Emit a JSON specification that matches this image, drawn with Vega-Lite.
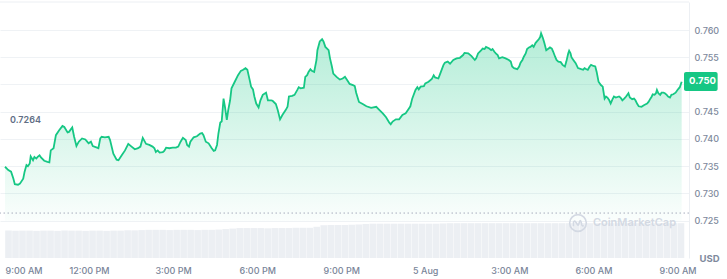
{
  "$schema": "https://vega.github.io/schema/vega-lite/v6.json",
  "width": 689,
  "height": 256,
  "autosize": {"type": "none"},
  "padding": {"left": 0, "top": 2, "right": 38, "bottom": 21},
  "background": "white",
  "config": {"view": {"stroke": null}, "font": "Inter"},
  "datasets": {
    "price": [
      {"time": "2023-08-04T09:00", "price": 0.7349},
      {"time": "2023-08-04T09:07", "price": 0.7343},
      {"time": "2023-08-04T09:13", "price": 0.7340},
      {"time": "2023-08-04T09:18", "price": 0.7327},
      {"time": "2023-08-04T09:21", "price": 0.7317},
      {"time": "2023-08-04T09:28", "price": 0.7316},
      {"time": "2023-08-04T09:32", "price": 0.7318},
      {"time": "2023-08-04T09:39", "price": 0.7327},
      {"time": "2023-08-04T09:42", "price": 0.7340},
      {"time": "2023-08-04T09:46", "price": 0.7352},
      {"time": "2023-08-04T09:49", "price": 0.7350},
      {"time": "2023-08-04T09:53", "price": 0.7355},
      {"time": "2023-08-04T09:55", "price": 0.7368},
      {"time": "2023-08-04T10:00", "price": 0.7361},
      {"time": "2023-08-04T10:03", "price": 0.7367},
      {"time": "2023-08-04T10:07", "price": 0.7364},
      {"time": "2023-08-04T10:10", "price": 0.7367},
      {"time": "2023-08-04T10:14", "price": 0.7370},
      {"time": "2023-08-04T10:17", "price": 0.7366},
      {"time": "2023-08-04T10:24", "price": 0.7360},
      {"time": "2023-08-04T10:31", "price": 0.7358},
      {"time": "2023-08-04T10:35", "price": 0.7357},
      {"time": "2023-08-04T10:38", "price": 0.7379},
      {"time": "2023-08-04T10:44", "price": 0.7383},
      {"time": "2023-08-04T10:49", "price": 0.7407},
      {"time": "2023-08-04T10:56", "price": 0.7416},
      {"time": "2023-08-04T11:03", "price": 0.7424},
      {"time": "2023-08-04T11:07", "price": 0.7422},
      {"time": "2023-08-04T11:14", "price": 0.7412},
      {"time": "2023-08-04T11:17", "price": 0.7413},
      {"time": "2023-08-04T11:24", "price": 0.7421},
      {"time": "2023-08-04T11:28", "price": 0.7404},
      {"time": "2023-08-04T11:33", "price": 0.7387},
      {"time": "2023-08-04T11:38", "price": 0.7395},
      {"time": "2023-08-04T11:45", "price": 0.7401},
      {"time": "2023-08-04T11:52", "price": 0.7399},
      {"time": "2023-08-04T11:56", "price": 0.7395},
      {"time": "2023-08-04T11:59", "price": 0.7392},
      {"time": "2023-08-04T12:04", "price": 0.7395},
      {"time": "2023-08-04T12:08", "price": 0.7387},
      {"time": "2023-08-04T12:17", "price": 0.7384},
      {"time": "2023-08-04T12:20", "price": 0.7383},
      {"time": "2023-08-04T12:24", "price": 0.7401},
      {"time": "2023-08-04T12:27", "price": 0.7404},
      {"time": "2023-08-04T12:34", "price": 0.7403},
      {"time": "2023-08-04T12:42", "price": 0.7404},
      {"time": "2023-08-04T12:45", "price": 0.7398},
      {"time": "2023-08-04T12:52", "price": 0.7373},
      {"time": "2023-08-04T12:59", "price": 0.7362},
      {"time": "2023-08-04T13:03", "price": 0.7361},
      {"time": "2023-08-04T13:10", "price": 0.7370},
      {"time": "2023-08-04T13:17", "price": 0.7379},
      {"time": "2023-08-04T13:24", "price": 0.7391},
      {"time": "2023-08-04T13:31", "price": 0.7386},
      {"time": "2023-08-04T13:38", "price": 0.7381},
      {"time": "2023-08-04T13:45", "price": 0.7383},
      {"time": "2023-08-04T13:50", "price": 0.7386},
      {"time": "2023-08-04T13:55", "price": 0.7402},
      {"time": "2023-08-04T14:02", "price": 0.7391},
      {"time": "2023-08-04T14:09", "price": 0.7389},
      {"time": "2023-08-04T14:16", "price": 0.7386},
      {"time": "2023-08-04T14:20", "price": 0.7383},
      {"time": "2023-08-04T14:23", "price": 0.7376},
      {"time": "2023-08-04T14:27", "price": 0.7379},
      {"time": "2023-08-04T14:31", "price": 0.7375},
      {"time": "2023-08-04T14:38", "price": 0.7376},
      {"time": "2023-08-04T14:41", "price": 0.7378},
      {"time": "2023-08-04T14:45", "price": 0.7384},
      {"time": "2023-08-04T14:52", "price": 0.7383},
      {"time": "2023-08-04T14:59", "price": 0.7384},
      {"time": "2023-08-04T15:06", "price": 0.7384},
      {"time": "2023-08-04T15:11", "price": 0.7386},
      {"time": "2023-08-04T15:16", "price": 0.7395},
      {"time": "2023-08-04T15:21", "price": 0.7402},
      {"time": "2023-08-04T15:27", "price": 0.7398},
      {"time": "2023-08-04T15:30", "price": 0.7389},
      {"time": "2023-08-04T15:34", "price": 0.7386},
      {"time": "2023-08-04T15:37", "price": 0.7395},
      {"time": "2023-08-04T15:44", "price": 0.7403},
      {"time": "2023-08-04T15:51", "price": 0.7405},
      {"time": "2023-08-04T15:58", "price": 0.7410},
      {"time": "2023-08-04T16:02", "price": 0.7411},
      {"time": "2023-08-04T16:05", "price": 0.7407},
      {"time": "2023-08-04T16:10", "price": 0.7395},
      {"time": "2023-08-04T16:16", "price": 0.7392},
      {"time": "2023-08-04T16:22", "price": 0.7384},
      {"time": "2023-08-04T16:27", "price": 0.7378},
      {"time": "2023-08-04T16:30", "price": 0.7379},
      {"time": "2023-08-04T16:34", "price": 0.7389},
      {"time": "2023-08-04T16:37", "price": 0.7410},
      {"time": "2023-08-04T16:41", "price": 0.7430},
      {"time": "2023-08-04T16:44", "price": 0.7432},
      {"time": "2023-08-04T16:48", "price": 0.7474},
      {"time": "2023-08-04T16:51", "price": 0.7459},
      {"time": "2023-08-04T16:55", "price": 0.7435},
      {"time": "2023-08-04T16:58", "price": 0.7453},
      {"time": "2023-08-04T17:02", "price": 0.7471},
      {"time": "2023-08-04T17:05", "price": 0.7493},
      {"time": "2023-08-04T17:12", "price": 0.7505},
      {"time": "2023-08-04T17:19", "price": 0.7517},
      {"time": "2023-08-04T17:25", "price": 0.7525},
      {"time": "2023-08-04T17:30", "price": 0.7527},
      {"time": "2023-08-04T17:35", "price": 0.7530},
      {"time": "2023-08-04T17:39", "price": 0.7527},
      {"time": "2023-08-04T17:44", "price": 0.7508},
      {"time": "2023-08-04T17:47", "price": 0.7496},
      {"time": "2023-08-04T17:51", "price": 0.7491},
      {"time": "2023-08-04T17:54", "price": 0.7478},
      {"time": "2023-08-04T17:58", "price": 0.7465},
      {"time": "2023-08-04T18:03", "price": 0.7458},
      {"time": "2023-08-04T18:07", "price": 0.7471},
      {"time": "2023-08-04T18:12", "price": 0.7481},
      {"time": "2023-08-04T18:19", "price": 0.7485},
      {"time": "2023-08-04T18:23", "price": 0.7471},
      {"time": "2023-08-04T18:30", "price": 0.7471},
      {"time": "2023-08-04T18:33", "price": 0.7470},
      {"time": "2023-08-04T18:40", "price": 0.7464},
      {"time": "2023-08-04T18:44", "price": 0.7453},
      {"time": "2023-08-04T18:49", "price": 0.7436},
      {"time": "2023-08-04T18:54", "price": 0.7444},
      {"time": "2023-08-04T19:01", "price": 0.7453},
      {"time": "2023-08-04T19:05", "price": 0.7459},
      {"time": "2023-08-04T19:08", "price": 0.7478},
      {"time": "2023-08-04T19:15", "price": 0.7479},
      {"time": "2023-08-04T19:20", "price": 0.7481},
      {"time": "2023-08-04T19:26", "price": 0.7490},
      {"time": "2023-08-04T19:29", "price": 0.7495},
      {"time": "2023-08-04T19:33", "price": 0.7493},
      {"time": "2023-08-04T19:40", "price": 0.7494},
      {"time": "2023-08-04T19:43", "price": 0.7514},
      {"time": "2023-08-04T19:47", "price": 0.7517},
      {"time": "2023-08-04T19:50", "price": 0.7523},
      {"time": "2023-08-04T19:54", "price": 0.7528},
      {"time": "2023-08-04T19:57", "price": 0.7525},
      {"time": "2023-08-04T20:02", "price": 0.7523},
      {"time": "2023-08-04T20:07", "price": 0.7545},
      {"time": "2023-08-04T20:09", "price": 0.7563},
      {"time": "2023-08-04T20:14", "price": 0.7579},
      {"time": "2023-08-04T20:19", "price": 0.7583},
      {"time": "2023-08-04T20:22", "price": 0.7579},
      {"time": "2023-08-04T20:26", "price": 0.7569},
      {"time": "2023-08-04T20:33", "price": 0.7563},
      {"time": "2023-08-04T20:36", "price": 0.7548},
      {"time": "2023-08-04T20:40", "price": 0.7533},
      {"time": "2023-08-04T20:43", "price": 0.7520},
      {"time": "2023-08-04T20:50", "price": 0.7514},
      {"time": "2023-08-04T20:57", "price": 0.7509},
      {"time": "2023-08-04T21:03", "price": 0.7511},
      {"time": "2023-08-04T21:08", "price": 0.7514},
      {"time": "2023-08-04T21:15", "price": 0.7505},
      {"time": "2023-08-04T21:18", "price": 0.7501},
      {"time": "2023-08-04T21:25", "price": 0.7499},
      {"time": "2023-08-04T21:29", "price": 0.7497},
      {"time": "2023-08-04T21:32", "price": 0.7485},
      {"time": "2023-08-04T21:38", "price": 0.7468},
      {"time": "2023-08-04T21:46", "price": 0.7464},
      {"time": "2023-08-04T21:54", "price": 0.7460},
      {"time": "2023-08-04T22:04", "price": 0.7457},
      {"time": "2023-08-04T22:15", "price": 0.7459},
      {"time": "2023-08-04T22:22", "price": 0.7453},
      {"time": "2023-08-04T22:29", "price": 0.7447},
      {"time": "2023-08-04T22:36", "price": 0.7440},
      {"time": "2023-08-04T22:43", "price": 0.7430},
      {"time": "2023-08-04T22:46", "price": 0.7427},
      {"time": "2023-08-04T22:50", "price": 0.7432},
      {"time": "2023-08-04T22:57", "price": 0.7436},
      {"time": "2023-08-04T23:04", "price": 0.7436},
      {"time": "2023-08-04T23:11", "price": 0.7444},
      {"time": "2023-08-04T23:18", "price": 0.7447},
      {"time": "2023-08-04T23:25", "price": 0.7456},
      {"time": "2023-08-04T23:28", "price": 0.7460},
      {"time": "2023-08-04T23:32", "price": 0.7474},
      {"time": "2023-08-04T23:39", "price": 0.7490},
      {"time": "2023-08-04T23:43", "price": 0.7495},
      {"time": "2023-08-04T23:46", "price": 0.7491},
      {"time": "2023-08-04T23:50", "price": 0.7496},
      {"time": "2023-08-04T23:57", "price": 0.7497},
      {"time": "2023-08-05T00:00", "price": 0.7502},
      {"time": "2023-08-05T00:07", "price": 0.7505},
      {"time": "2023-08-05T00:14", "price": 0.7510},
      {"time": "2023-08-05T00:18", "price": 0.7517},
      {"time": "2023-08-05T00:21", "price": 0.7513},
      {"time": "2023-08-05T00:28", "price": 0.7511},
      {"time": "2023-08-05T00:32", "price": 0.7520},
      {"time": "2023-08-05T00:39", "price": 0.7536},
      {"time": "2023-08-05T00:42", "price": 0.7540},
      {"time": "2023-08-05T00:48", "price": 0.7542},
      {"time": "2023-08-05T00:53", "price": 0.7538},
      {"time": "2023-08-05T01:00", "price": 0.7545},
      {"time": "2023-08-05T01:07", "price": 0.7548},
      {"time": "2023-08-05T01:14", "price": 0.7549},
      {"time": "2023-08-05T01:21", "price": 0.7554},
      {"time": "2023-08-05T01:24", "price": 0.7558},
      {"time": "2023-08-05T01:32", "price": 0.7557},
      {"time": "2023-08-05T01:39", "price": 0.7552},
      {"time": "2023-08-05T01:46", "price": 0.7545},
      {"time": "2023-08-05T01:49", "price": 0.7548},
      {"time": "2023-08-05T01:53", "price": 0.7557},
      {"time": "2023-08-05T02:00", "price": 0.7563},
      {"time": "2023-08-05T02:03", "price": 0.7566},
      {"time": "2023-08-05T02:07", "price": 0.7565},
      {"time": "2023-08-05T02:10", "price": 0.7569},
      {"time": "2023-08-05T02:17", "price": 0.7566},
      {"time": "2023-08-05T02:21", "price": 0.7563},
      {"time": "2023-08-05T02:24", "price": 0.7565},
      {"time": "2023-08-05T02:28", "price": 0.7560},
      {"time": "2023-08-05T02:31", "price": 0.7557},
      {"time": "2023-08-05T02:35", "price": 0.7554},
      {"time": "2023-08-05T02:38", "price": 0.7548},
      {"time": "2023-08-05T02:45", "price": 0.7550},
      {"time": "2023-08-05T02:52", "price": 0.7548},
      {"time": "2023-08-05T02:59", "price": 0.7545},
      {"time": "2023-08-05T03:03", "price": 0.7542},
      {"time": "2023-08-05T03:06", "price": 0.7533},
      {"time": "2023-08-05T03:10", "price": 0.7530},
      {"time": "2023-08-05T03:17", "price": 0.7528},
      {"time": "2023-08-05T03:21", "price": 0.7533},
      {"time": "2023-08-05T03:24", "price": 0.7540},
      {"time": "2023-08-05T03:28", "price": 0.7545},
      {"time": "2023-08-05T03:31", "price": 0.7551},
      {"time": "2023-08-05T03:35", "price": 0.7557},
      {"time": "2023-08-05T03:38", "price": 0.7565},
      {"time": "2023-08-05T03:42", "price": 0.7568},
      {"time": "2023-08-05T03:45", "price": 0.7569},
      {"time": "2023-08-05T03:49", "price": 0.7572},
      {"time": "2023-08-05T03:52", "price": 0.7569},
      {"time": "2023-08-05T03:56", "price": 0.7576},
      {"time": "2023-08-05T03:59", "price": 0.7579},
      {"time": "2023-08-05T04:03", "price": 0.7583},
      {"time": "2023-08-05T04:06", "price": 0.7587},
      {"time": "2023-08-05T04:08", "price": 0.7594},
      {"time": "2023-08-05T04:12", "price": 0.7585},
      {"time": "2023-08-05T04:15", "price": 0.7576},
      {"time": "2023-08-05T04:19", "price": 0.7563},
      {"time": "2023-08-05T04:24", "price": 0.7566},
      {"time": "2023-08-05T04:27", "price": 0.7568},
      {"time": "2023-08-05T04:31", "price": 0.7566},
      {"time": "2023-08-05T04:34", "price": 0.7560},
      {"time": "2023-08-05T04:38", "price": 0.7551},
      {"time": "2023-08-05T04:41", "price": 0.7545},
      {"time": "2023-08-05T04:45", "price": 0.7542},
      {"time": "2023-08-05T04:50", "price": 0.7541},
      {"time": "2023-08-05T04:54", "price": 0.7536},
      {"time": "2023-08-05T04:59", "price": 0.7533},
      {"time": "2023-08-05T05:02", "price": 0.7542},
      {"time": "2023-08-05T05:06", "price": 0.7557},
      {"time": "2023-08-05T05:08", "price": 0.7562},
      {"time": "2023-08-05T05:11", "price": 0.7557},
      {"time": "2023-08-05T05:13", "price": 0.7550},
      {"time": "2023-08-05T05:17", "price": 0.7545},
      {"time": "2023-08-05T05:22", "price": 0.7539},
      {"time": "2023-08-05T05:27", "price": 0.7530},
      {"time": "2023-08-05T05:34", "price": 0.7528},
      {"time": "2023-08-05T05:38", "price": 0.7527},
      {"time": "2023-08-05T05:41", "price": 0.7530},
      {"time": "2023-08-05T05:45", "price": 0.7528},
      {"time": "2023-08-05T05:48", "price": 0.7527},
      {"time": "2023-08-05T05:52", "price": 0.7533},
      {"time": "2023-08-05T05:55", "price": 0.7536},
      {"time": "2023-08-05T06:00", "price": 0.7534},
      {"time": "2023-08-05T06:04", "price": 0.7533},
      {"time": "2023-08-05T06:07", "price": 0.7523},
      {"time": "2023-08-05T06:11", "price": 0.7505},
      {"time": "2023-08-05T06:16", "price": 0.7499},
      {"time": "2023-08-05T06:20", "price": 0.7496},
      {"time": "2023-08-05T06:21", "price": 0.7490},
      {"time": "2023-08-05T06:24", "price": 0.7474},
      {"time": "2023-08-05T06:27", "price": 0.7478},
      {"time": "2023-08-05T06:30", "price": 0.7476},
      {"time": "2023-08-05T06:34", "price": 0.7471},
      {"time": "2023-08-05T06:37", "price": 0.7465},
      {"time": "2023-08-05T06:41", "price": 0.7473},
      {"time": "2023-08-05T06:44", "price": 0.7478},
      {"time": "2023-08-05T06:48", "price": 0.7476},
      {"time": "2023-08-05T06:55", "price": 0.7478},
      {"time": "2023-08-05T06:58", "price": 0.7476},
      {"time": "2023-08-05T07:02", "price": 0.7471},
      {"time": "2023-08-05T07:06", "price": 0.7474},
      {"time": "2023-08-05T07:10", "price": 0.7478},
      {"time": "2023-08-05T07:15", "price": 0.7484},
      {"time": "2023-08-05T07:18", "price": 0.7476},
      {"time": "2023-08-05T07:23", "price": 0.7473},
      {"time": "2023-08-05T07:27", "price": 0.7474},
      {"time": "2023-08-05T07:30", "price": 0.7471},
      {"time": "2023-08-05T07:34", "price": 0.7464},
      {"time": "2023-08-05T07:37", "price": 0.7460},
      {"time": "2023-08-05T07:43", "price": 0.7459},
      {"time": "2023-08-05T07:48", "price": 0.7462},
      {"time": "2023-08-05T07:55", "price": 0.7465},
      {"time": "2023-08-05T07:58", "price": 0.7468},
      {"time": "2023-08-05T08:02", "price": 0.7474},
      {"time": "2023-08-05T08:05", "price": 0.7478},
      {"time": "2023-08-05T08:07", "price": 0.7482},
      {"time": "2023-08-05T08:11", "price": 0.7481},
      {"time": "2023-08-05T08:14", "price": 0.7484},
      {"time": "2023-08-05T08:16", "price": 0.7490},
      {"time": "2023-08-05T08:19", "price": 0.7484},
      {"time": "2023-08-05T08:23", "price": 0.7481},
      {"time": "2023-08-05T08:26", "price": 0.7485},
      {"time": "2023-08-05T08:30", "price": 0.7485},
      {"time": "2023-08-05T08:33", "price": 0.7484},
      {"time": "2023-08-05T08:37", "price": 0.7481},
      {"time": "2023-08-05T08:40", "price": 0.7478},
      {"time": "2023-08-05T08:44", "price": 0.7476},
      {"time": "2023-08-05T08:47", "price": 0.7481},
      {"time": "2023-08-05T08:51", "price": 0.7482},
      {"time": "2023-08-05T08:56", "price": 0.7485},
      {"time": "2023-08-05T09:00", "price": 0.7490},
      {"time": "2023-08-05T09:05", "price": 0.7495},
      {"time": "2023-08-05T09:09", "price": 0.7505}
    ],
    "volume": [
      {"time": "2023-08-04T09:07:30", "volume": 107},
      {"time": "2023-08-04T09:22:30", "volume": 106},
      {"time": "2023-08-04T09:37:30", "volume": 107},
      {"time": "2023-08-04T09:52:30", "volume": 107},
      {"time": "2023-08-04T10:07:30", "volume": 106},
      {"time": "2023-08-04T10:22:30", "volume": 107},
      {"time": "2023-08-04T10:37:30", "volume": 107},
      {"time": "2023-08-04T10:52:30", "volume": 106},
      {"time": "2023-08-04T11:07:30", "volume": 107},
      {"time": "2023-08-04T11:22:30", "volume": 107},
      {"time": "2023-08-04T11:37:30", "volume": 107},
      {"time": "2023-08-04T11:52:30", "volume": 106},
      {"time": "2023-08-04T12:07:30", "volume": 107},
      {"time": "2023-08-04T12:22:30", "volume": 107},
      {"time": "2023-08-04T12:37:30", "volume": 106},
      {"time": "2023-08-04T12:52:30", "volume": 107},
      {"time": "2023-08-04T13:07:30", "volume": 107},
      {"time": "2023-08-04T13:22:30", "volume": 108},
      {"time": "2023-08-04T13:37:30", "volume": 108},
      {"time": "2023-08-04T13:52:30", "volume": 109},
      {"time": "2023-08-04T14:07:30", "volume": 110},
      {"time": "2023-08-04T14:22:30", "volume": 110},
      {"time": "2023-08-04T14:37:30", "volume": 110},
      {"time": "2023-08-04T14:52:30", "volume": 109},
      {"time": "2023-08-04T15:07:30", "volume": 110},
      {"time": "2023-08-04T15:22:30", "volume": 110},
      {"time": "2023-08-04T15:37:30", "volume": 110},
      {"time": "2023-08-04T15:52:30", "volume": 109},
      {"time": "2023-08-04T16:07:30", "volume": 110},
      {"time": "2023-08-04T16:22:30", "volume": 110},
      {"time": "2023-08-04T16:37:30", "volume": 111},
      {"time": "2023-08-04T16:52:30", "volume": 113},
      {"time": "2023-08-04T17:07:30", "volume": 115},
      {"time": "2023-08-04T17:22:30", "volume": 117},
      {"time": "2023-08-04T17:37:30", "volume": 117},
      {"time": "2023-08-04T17:52:30", "volume": 117},
      {"time": "2023-08-04T18:07:30", "volume": 117},
      {"time": "2023-08-04T18:22:30", "volume": 116},
      {"time": "2023-08-04T18:37:30", "volume": 117},
      {"time": "2023-08-04T18:52:30", "volume": 117},
      {"time": "2023-08-04T19:07:30", "volume": 117},
      {"time": "2023-08-04T19:22:30", "volume": 118},
      {"time": "2023-08-04T19:37:30", "volume": 118},
      {"time": "2023-08-04T19:52:30", "volume": 118},
      {"time": "2023-08-04T20:07:30", "volume": 122},
      {"time": "2023-08-04T20:22:30", "volume": 128},
      {"time": "2023-08-04T20:37:30", "volume": 129},
      {"time": "2023-08-04T20:52:30", "volume": 129},
      {"time": "2023-08-04T21:07:30", "volume": 129},
      {"time": "2023-08-04T21:22:30", "volume": 130},
      {"time": "2023-08-04T21:37:30", "volume": 131},
      {"time": "2023-08-04T21:52:30", "volume": 133},
      {"time": "2023-08-04T22:07:30", "volume": 134},
      {"time": "2023-08-04T22:22:30", "volume": 134},
      {"time": "2023-08-04T22:37:30", "volume": 134},
      {"time": "2023-08-04T22:52:30", "volume": 134},
      {"time": "2023-08-04T23:07:30", "volume": 134},
      {"time": "2023-08-04T23:22:30", "volume": 134},
      {"time": "2023-08-04T23:37:30", "volume": 134},
      {"time": "2023-08-04T23:52:30", "volume": 134},
      {"time": "2023-08-05T00:07:30", "volume": 134},
      {"time": "2023-08-05T00:22:30", "volume": 134},
      {"time": "2023-08-05T00:37:30", "volume": 135},
      {"time": "2023-08-05T00:52:30", "volume": 136},
      {"time": "2023-08-05T01:07:30", "volume": 136},
      {"time": "2023-08-05T01:22:30", "volume": 136},
      {"time": "2023-08-05T01:37:30", "volume": 136},
      {"time": "2023-08-05T01:52:30", "volume": 136},
      {"time": "2023-08-05T02:07:30", "volume": 136},
      {"time": "2023-08-05T02:22:30", "volume": 136},
      {"time": "2023-08-05T02:37:30", "volume": 136},
      {"time": "2023-08-05T02:52:30", "volume": 136},
      {"time": "2023-08-05T03:07:30", "volume": 136},
      {"time": "2023-08-05T03:22:30", "volume": 136},
      {"time": "2023-08-05T03:37:30", "volume": 136},
      {"time": "2023-08-05T03:52:30", "volume": 136},
      {"time": "2023-08-05T04:07:30", "volume": 136},
      {"time": "2023-08-05T04:22:30", "volume": 136},
      {"time": "2023-08-05T04:37:30", "volume": 136},
      {"time": "2023-08-05T04:52:30", "volume": 136},
      {"time": "2023-08-05T05:07:30", "volume": 136},
      {"time": "2023-08-05T05:22:30", "volume": 136},
      {"time": "2023-08-05T05:37:30", "volume": 136},
      {"time": "2023-08-05T05:52:30", "volume": 136},
      {"time": "2023-08-05T06:07:30", "volume": 136},
      {"time": "2023-08-05T06:22:30", "volume": 136},
      {"time": "2023-08-05T06:37:30", "volume": 136},
      {"time": "2023-08-05T06:52:30", "volume": 136},
      {"time": "2023-08-05T07:07:30", "volume": 136},
      {"time": "2023-08-05T07:22:30", "volume": 136},
      {"time": "2023-08-05T07:37:30", "volume": 136},
      {"time": "2023-08-05T07:52:30", "volume": 136},
      {"time": "2023-08-05T08:07:30", "volume": 136},
      {"time": "2023-08-05T08:22:30", "volume": 136},
      {"time": "2023-08-05T08:37:30", "volume": 136},
      {"time": "2023-08-05T08:52:30", "volume": 136},
      {"time": "2023-08-05T09:07:30", "volume": 136}
    ]
  },
  "layer": [
    {
      "data": {"name": "volume"},
      "mark": {"type": "bar", "color": "#eceff3", "width": 6.6},
      "encoding": {
        "x": {
          "field": "time",
          "type": "temporal",
          "scale": {"domain": [{"year": 2023, "month": 8, "date": 4, "hours": 9, "minutes": 0}, {"year": 2023, "month": 8, "date": 5, "hours": 9, "minutes": 14}]},
          "axis": {
            "title": null,
            "values": [
              {"year": 2023, "month": 8, "date": 4, "hours": 9},
              {"year": 2023, "month": 8, "date": 4, "hours": 12},
              {"year": 2023, "month": 8, "date": 4, "hours": 15},
              {"year": 2023, "month": 8, "date": 4, "hours": 18},
              {"year": 2023, "month": 8, "date": 4, "hours": 21},
              {"year": 2023, "month": 8, "date": 5, "hours": 0},
              {"year": 2023, "month": 8, "date": 5, "hours": 3},
              {"year": 2023, "month": 8, "date": 5, "hours": 6},
              {"year": 2023, "month": 8, "date": 5, "hours": 9}
            ],
            "tickCount": 30,
            "labelExpr": "hours(datum.value) == 0 ? timeFormat(datum.value, '%-d %b') : timeFormat(datum.value, '%-I:%M %p')",
            "labelAlign": {"condition": {"test": "date(datum.value) == 4 && hours(datum.value) == 9", "value": "left"}, "value": "center"},
            "labelFlush": false,
            "labelOverlap": false,
            "ticks": false,
            "tickSize": 0,
            "domain": false,
            "grid": false,
            "labelPadding": 8,
            "labelColor": "#7a8599",
            "labelFont": "Inter",
            "labelFontSize": 9,
            "labelFontWeight": 500
          }
        },
        "y": {"field": "volume", "type": "quantitative", "scale": {"domain": [0, 1000]}, "axis": null}
      }
    },
    {
      "data": {"name": "price"},
      "layer": [
        {
          "mark": {
            "type": "area",
            "color": {
              "gradient": "linear",
              "x1": 0, "y1": 0, "x2": 0, "y2": 1,
              "stops": [
                {"offset": 0, "color": "rgba(22,199,132,0.32)"},
                {"offset": 1, "color": "rgba(22,199,132,0.02)"}
              ]
            }
          },
          "encoding": {
            "x": {"field": "time", "type": "temporal"},
            "y": {
              "field": "price",
              "type": "quantitative",
              "scale": {"domain": [0.71815, 0.76514], "nice": false, "zero": false},
              "axis": {
                "orient": "right",
                "values": [0.725, 0.73, 0.735, 0.74, 0.745, 0.75, 0.755, 0.76],
                "tickCount": 30,
                "format": ".3f",
                "labelExpr": "abs(datum.value - 0.75) < 0.0001 ? '' : datum.label",
                "labelOverlap": false,
                "grid": true,
                "gridColor": "#eff2f5",
                "domain": true,
                "domainColor": "#eceff3",
                "ticks": false,
                "tickSize": 0,
                "labelPadding": 5,
                "labelColor": "#808a9d",
                "labelFont": "Inter",
                "labelFontSize": 9,
                "labelFontWeight": 500,
                "title": "USD",
                "titleAngle": 0,
                "titleAlign": "left",
                "titleBaseline": "alphabetic",
                "titleX": 10,
                "titleY": 259,
                "titleColor": "#808a9d",
                "titleFont": "Inter",
                "titleFontSize": 9.5,
                "titleFontWeight": 700
              }
            },
            "y2": {"datum": 0.725}
          }
        },
        {
          "data": {"values": [{}]},
          "mark": {"type": "rule", "color": "#eceff3", "strokeWidth": 1},
          "encoding": {"y": {"datum": 0.76514, "type": "quantitative"}}
        },
        {
          "data": {"values": [{}]},
          "mark": {"type": "rule", "color": "#a6adbd", "strokeWidth": 1, "strokeDash": [1.5, 2.5]},
          "encoding": {"y": {"datum": 0.7264, "type": "quantitative"}}
        },
        {
          "mark": {"type": "line", "color": "#16c784", "strokeWidth": 1.8},
          "encoding": {
            "x": {"field": "time", "type": "temporal"},
            "y": {"field": "price", "type": "quantitative"}
          }
        },
        {
          "data": {"values": [{}]},
          "mark": {"type": "text", "text": "0.7264", "align": "left", "baseline": "middle", "dx": 5, "font": "Inter", "fontSize": 9, "fontWeight": 600, "color": "#616e85"},
          "encoding": {
            "x": {"datum": {"year": 2023, "month": 8, "date": 4, "hours": 9, "minutes": 0}, "type": "temporal"},
            "y": {"datum": 0.7435, "type": "quantitative"}
          }
        },
        {
          "data": {"values": [{}]},
          "mark": {"type": "rect", "color": "#16c784", "cornerRadius": 2},
          "encoding": {
            "x": {"datum": {"year": 2023, "month": 8, "date": 5, "hours": 9, "minutes": 14}, "type": "temporal"},
            "x2": {"datum": {"year": 2023, "month": 8, "date": 5, "hours": 10, "minutes": 26}},
            "y": {"datum": 0.75229, "type": "quantitative"},
            "y2": {"datum": 0.7488}
          }
        },
        {
          "data": {"values": [{}]},
          "mark": {"type": "text", "text": "0.750", "align": "left", "baseline": "middle", "dx": 5, "font": "Inter", "fontSize": 9.5, "fontWeight": 700, "color": "#ffffff"},
          "encoding": {
            "x": {"datum": {"year": 2023, "month": 8, "date": 5, "hours": 9, "minutes": 14}, "type": "temporal"},
            "y": {"datum": 0.75055, "type": "quantitative"}
          }
        },
        {
          "data": {"values": [{}]},
          "mark": {"type": "point", "shape": "circle", "filled": false, "size": 280, "strokeWidth": 1.6, "color": "#d3d9e3", "opacity": 1},
          "encoding": {
            "x": {"datum": {"year": 2023, "month": 8, "date": 5, "hours": 5, "minutes": 27}, "type": "temporal"},
            "y": {"datum": 0.72457, "type": "quantitative"}
          }
        },
        {
          "data": {"values": [{}]},
          "mark": {"type": "point", "shape": "M-0.55,0.4 L-0.55,0 Q-0.5,-0.4 -0.25,-0.1 L-0.05,0.2 Q0.05,0.35 0.12,0.05 L0.2,-0.2 Q0.3,-0.4 0.38,-0.1 L0.45,0.2 Q0.52,0.42 0.68,0.28", "filled": false, "size": 280, "strokeWidth": 1.6, "color": "#d3d9e3", "opacity": 1},
          "encoding": {
            "x": {"datum": {"year": 2023, "month": 8, "date": 5, "hours": 5, "minutes": 27}, "type": "temporal"},
            "y": {"datum": 0.72457, "type": "quantitative"}
          }
        },
        {
          "data": {"values": [{}]},
          "mark": {"type": "text", "text": "CoinMarketCap", "align": "left", "baseline": "middle", "font": "Inter", "fontSize": 11, "fontWeight": 600, "color": "#d3d9e3"},
          "encoding": {
            "x": {"datum": {"year": 2023, "month": 8, "date": 5, "hours": 5, "minutes": 59}, "type": "temporal"},
            "y": {"datum": 0.72457, "type": "quantitative"}
          }
        }
      ]
    }
  ],
  "resolve": {"scale": {"y": "independent"}}
}
